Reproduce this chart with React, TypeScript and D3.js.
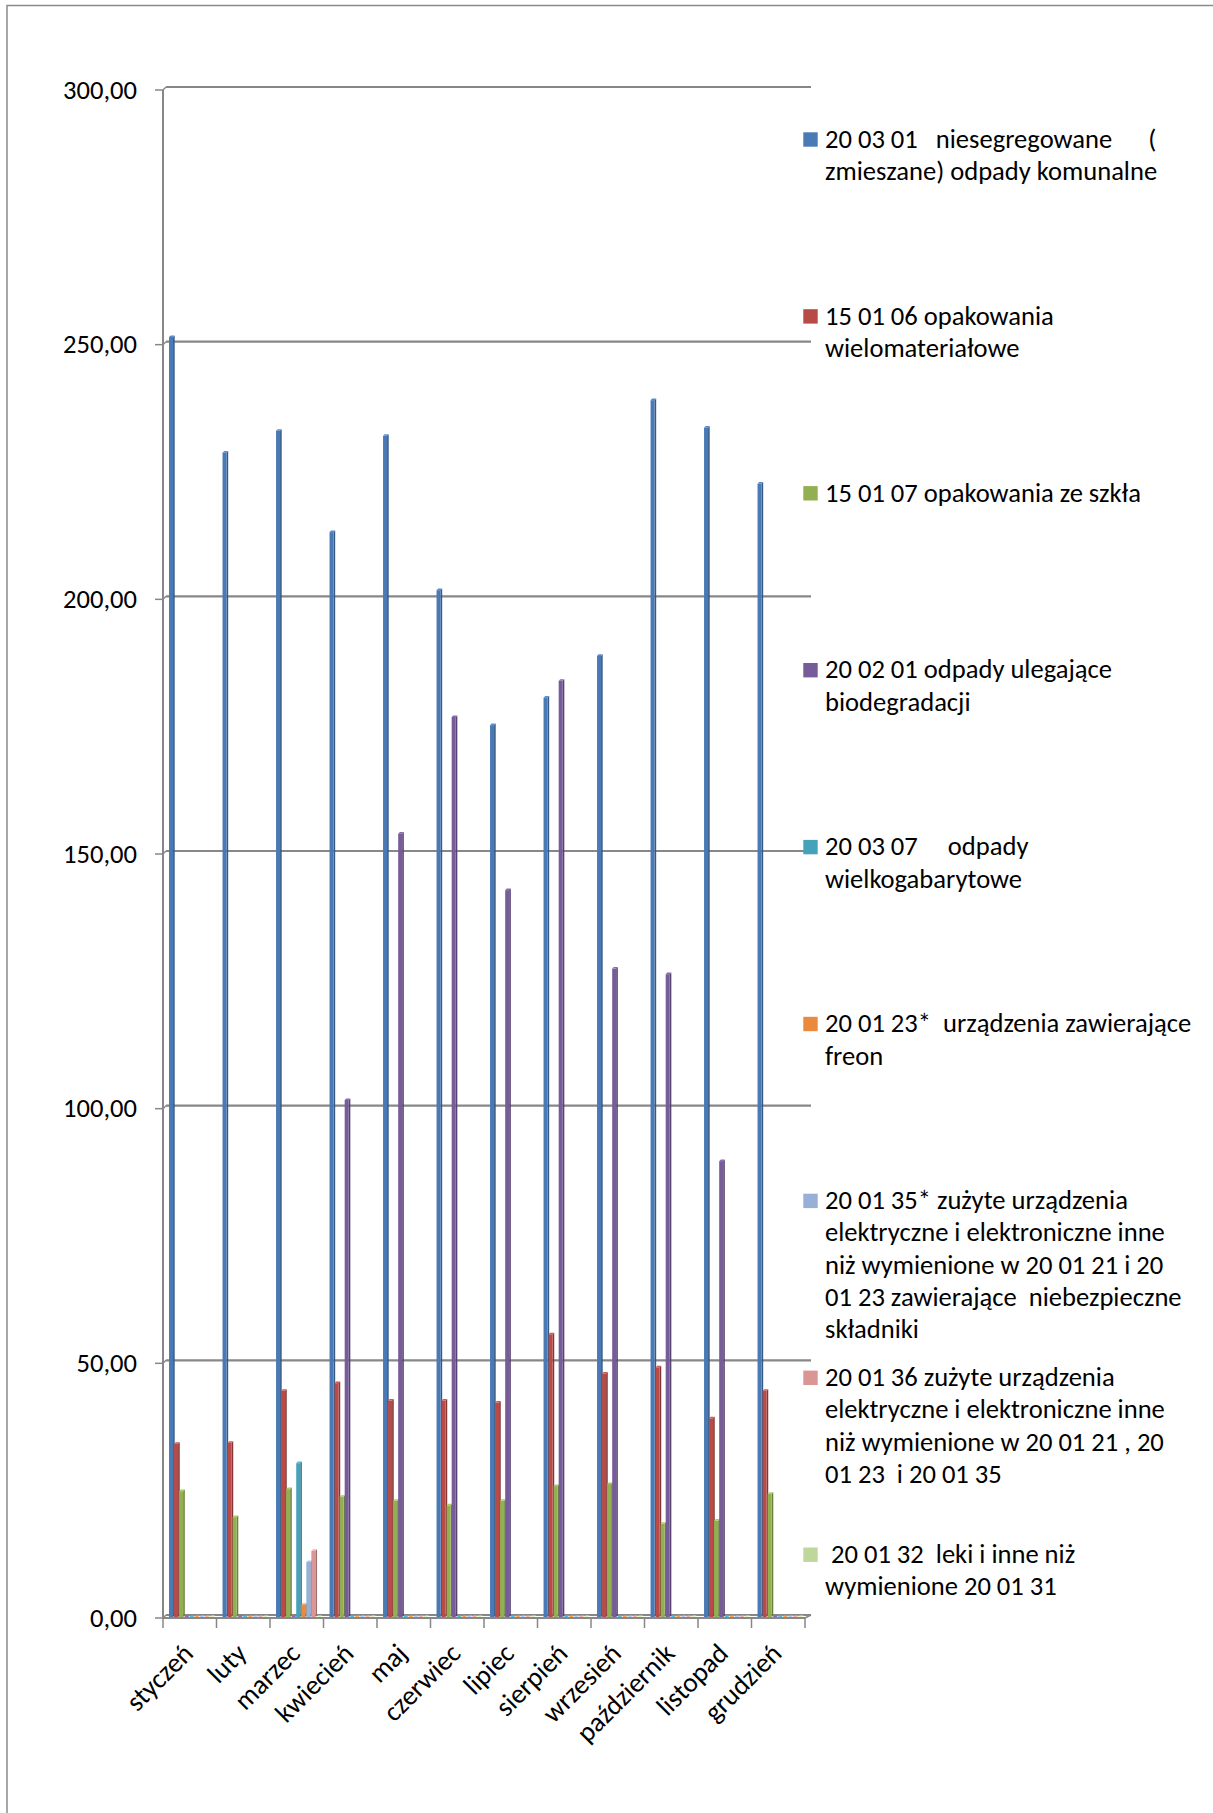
import React, { useEffect, useRef } from 'react';
import * as d3 from 'd3';

const months = ['styczeń', 'luty', 'marzec', 'kwiecień', 'maj', 'czerwiec', 'lipiec', 'sierpień', 'wrzesień', 'październik', 'listopad', 'grudzień'];

const seriesKeys = ['200301', '150106', '150107', '200201', '200307', '200123', '200135', '200136', '200132'];

const legendLines = [
  ['20 03 01   niesegregowane      (', 'zmieszane) odpady komunalne'],
  ['15 01 06 opakowania', 'wielomateriałowe'],
  ['15 01 07 opakowania ze szkła'],
  ['20 02 01 odpady ulegające', 'biodegradacji'],
  ['20 03 07     odpady', 'wielkogabarytowe'],
  ['20 01 23*  urządzenia zawierające', 'freon'],
  ['20 01 35* zużyte urządzenia', 'elektryczne i elektroniczne inne', 'niż wymienione w 20 01 21 i 20', '01 23 zawierające  niebezpieczne', 'składniki'],
  ['20 01 36 zużyte urządzenia', 'elektryczne i elektroniczne inne', 'niż wymienione w 20 01 21 , 20', '01 23  i 20 01 35'],
  [' 20 01 32  leki i inne niż', 'wymienione 20 01 31'],
];

const seriesColors = ['#4a7ab5', '#b84a47', '#92b052', '#775c9a', '#46a2bb', '#ea8a3e', '#98b0d8', '#d99694', '#c0d79b'];

// monthly values per waste code
const v200301 = [251.3, 228.6, 232.9, 213.0, 231.9, 201.6, 175.1, 180.5, 188.7, 238.9, 233.5, 222.5];
const v150106 = [34.0, 34.2, 44.4, 45.9, 42.5, 42.5, 42.1, 55.5, 47.8, 49.0, 39.0, 44.4];
const v150107 = [24.7, 19.6, 25.1, 23.6, 22.8, 21.9, 22.8, 25.7, 26.1, 18.3, 18.9, 24.2];
const v200201 = [0, 0, 0, 101.5, 153.8, 176.7, 142.7, 183.8, 127.3, 126.2, 89.5, 0];
const v200307 = [0, 0, 30.2, 0, 0, 0, 0, 0, 0, 0, 0, 0];
const v200123 = [0, 0, 2.4, 0, 0, 0, 0, 0, 0, 0, 0, 0];
const v200135 = [0, 0, 10.8, 0, 0, 0, 0, 0, 0, 0, 0, 0];
const v200136 = [0, 0, 13.0, 0, 0, 0, 0, 0, 0, 0, 0, 0];
const v200132 = [0, 0, 0, 0, 0, 0, 0, 0, 0, 0, 0, 0];

const seriesValues = [v200301, v150106, v150107, v200201, v200307, v200123, v200135, v200136, v200132];

const yTicks = [0, 50, 100, 150, 200, 250, 300];

const FONT = 'Carlito, Calibri, Lato, "Open Sans", sans-serif';

export default function App() {
  const svgRef = useRef<SVGSVGElement>(null);

  useEffect(() => {
    if (!svgRef.current) return;
    const svg = d3.select(svgRef.current);
    svg.selectAll('*').remove();

    // scale the fallback font so a legend line has the width it has in the picture
    const probe = svg.append('text')
      .style('font-family', FONT)
      .style('font-size', '100px')
      .text('elektryczne i elektroniczne inne');
    const probeW = (probe.node() as SVGTextElement).getComputedTextLength();
    probe.remove();
    const fs = probeW > 0 ? (100 * 340) / probeW : 26;

    const left = 163, right = 805, top = 90, bottom = 1618;
    const dep = 3;
    const gridColor = '#878787';

    // outer frame
    svg.append('rect')
      .attr('x', 7).attr('y', 5.5)
      .attr('width', 1400).attr('height', 2000)
      .attr('fill', 'none')
      .attr('stroke', '#8a8a8a')
      .attr('stroke-width', 1.5);

    const y = d3.scaleLinear().domain([0, 300]).range([bottom, top]);
    const x0 = d3.scaleBand<string>().domain(months).range([left, right]).padding(0);
    const x1 = d3.scaleBand<string>().domain(seriesKeys).range([0, x0.bandwidth()]).paddingInner(0).paddingOuter(0.8);

    // gridlines on back wall, ticks
    const grid = svg.append('g');
    yTicks.forEach(t => {
      const yy = y(t);
      grid.append('line')
        .attr('x1', left + dep).attr('x2', right + 6)
        .attr('y1', yy - dep).attr('y2', yy - dep)
        .attr('stroke', gridColor).attr('stroke-width', 2.2);
      grid.append('line')
        .attr('x1', left).attr('x2', left + dep)
        .attr('y1', yy).attr('y2', yy - dep)
        .attr('stroke', gridColor).attr('stroke-width', 1.5);
      grid.append('line')
        .attr('x1', left - 8).attr('x2', left)
        .attr('y1', yy).attr('y2', yy)
        .attr('stroke', gridColor).attr('stroke-width', 1.5);
    });

    // vertical axis
    grid.append('line')
      .attr('x1', left).attr('x2', left)
      .attr('y1', y(300)).attr('y2', y(0))
      .attr('stroke', gridColor).attr('stroke-width', 2);

    // floor
    grid.append('line')
      .attr('x1', left).attr('x2', right)
      .attr('y1', bottom).attr('y2', bottom)
      .attr('stroke', gridColor).attr('stroke-width', 2);
    grid.append('line')
      .attr('x1', right).attr('x2', right + 6)
      .attr('y1', bottom).attr('y2', bottom - dep)
      .attr('stroke', gridColor).attr('stroke-width', 1.5);

    // x ticks
    const xTickPos = months.map(m => x0(m)!).concat([right]);
    xTickPos.forEach(px => {
      grid.append('line')
        .attr('x1', px).attr('x2', px)
        .attr('y1', bottom).attr('y2', bottom + 10)
        .attr('stroke', gridColor).attr('stroke-width', 1.5);
    });

    // y labels
    const fmt = (v: number) => d3.format('.2f')(v).replace('.', ',');
    svg.append('g').selectAll('text')
      .data(yTicks)
      .enter()
      .append('text')
      .attr('x', 137)
      .attr('y', d => y(d))
      .attr('dy', '0.33em')
      .attr('text-anchor', 'end')
      .style('font-family', FONT)
      .style('font-size', `${fs}px`)
      .style('fill', '#000')
      .text(d => fmt(d));

    // bars (3D look: front, side, top)
    const step = x1.step();
    const fw = step * 0.8;
    const sd = step * 0.32;
    const bars = svg.append('g');
    months.forEach((m, mi) => {
      seriesKeys.forEach((k, si) => {
        const v = seriesValues[si][mi];
        const bx = x0(m)! + x1(k)! + 2;
        const by = y(v) - 1;
        const base = bottom - 1;
        const c = d3.color(seriesColors[si])!;
        const side = c.darker(0.9).toString();
        const topc = c.brighter(0.4).toString();
        const h = Math.max(0, base - by);
        bars.append('path')
          .attr('d', `M${bx + fw},${base} L${bx + fw + sd},${base - sd} L${bx + fw + sd},${by - sd} L${bx + fw},${by} Z`)
          .attr('fill', side);
        bars.append('rect')
          .attr('x', bx).attr('y', by)
          .attr('width', fw).attr('height', h)
          .attr('fill', seriesColors[si]);
        bars.append('path')
          .attr('d', `M${bx},${by} L${bx + sd},${by - sd} L${bx + fw + sd},${by - sd} L${bx + fw},${by} Z`)
          .attr('fill', topc);
      });
    });

    // x labels
    svg.append('g').selectAll('text')
      .data(months)
      .enter()
      .append('text')
      .attr('transform', d => `translate(${x0(d)! + x0.bandwidth() / 2 + 5},${bottom + 37}) rotate(-45)`)
      .attr('text-anchor', 'end')
      .style('font-family', FONT)
      .style('font-size', `${fs * 1.03}px`)
      .style('fill', '#000')
      .text(d => d);

    // legend
    const leg = svg.append('g');
    legendLines.forEach((lines, i) => {
      const ty = 132.3 + i * 176.9;
      leg.append('rect')
        .attr('x', 803.3).attr('y', ty)
        .attr('width', 14.4).attr('height', 14.4)
        .attr('fill', seriesColors[i]);
      const t = leg.append('text')
        .attr('x', 825)
        .attr('y', ty + 15.4)
        .style('font-family', FONT)
        .style('font-size', `${fs}px`)
        .style('white-space', 'pre')
        .style('fill', '#000');
      lines.forEach((ln, li) => {
        t.append('tspan')
          .attr('x', 825)
          .attr('y', ty + 15.4 + li * 32.3)
          .text(ln);
      });
    });
  }, []);

  return (
    <svg
      ref={svgRef}
      width={1213}
      height={1813}
      style={{ position: 'absolute', left: 0, top: 0, background: '#fff' }}
    />
  );
}
